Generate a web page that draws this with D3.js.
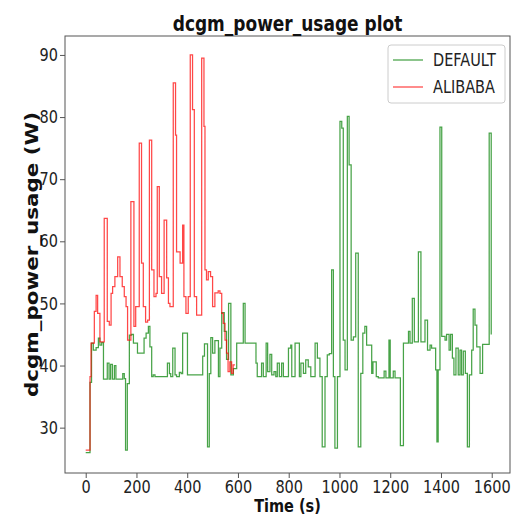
<!DOCTYPE html>
<html>
<head>
<meta charset="utf-8">
<script src="https://cdn.jsdelivr.net/npm/d3@7"></script>
<style>
  html, body { margin: 0; padding: 0; background: #fff; }
  svg { display: block; font-family: "DejaVu Sans", sans-serif; }
</style>
</head>
<body>
<svg id="chart" width="512" height="517"></svg>
<script>
// ---- data ----
const seriesNames = ["DEFAULT", "ALIBABA"];
const xTickValues = [0, 200, 400, 600, 800, 1000, 1200, 1400, 1600];
const yTickValues = [30, 40, 50, 60, 70, 80, 90];

const defaultTime = [0,17,23,30,41,50,56,63,70,85,92,98,105,113,119,146,152,157,164,172,181,188,204,230,238,247,253,260,266,273,322,330,335,343,352,358,369,376,382,401,461,468,480,487,493,500,509,523,529,536,546,555,563,572,582,595,621,628,671,676,693,700,711,717,726,733,742,749,755,763,772,779,799,808,812,825,842,848,858,867,877,887,904,913,923,932,943,952,960,969,976,982,992,1002,1009,1015,1022,1031,1038,1046,1055,1064,1074,1084,1092,1100,1107,1127,1132,1145,1153,1176,1183,1195,1200,1212,1219,1240,1252,1272,1278,1287,1295,1311,1321,1337,1347,1357,1363,1379,1384,1389,1396,1403,1416,1422,1432,1438,1445,1451,1459,1468,1475,1481,1488,1496,1504,1512,1521,1527,1534,1541,1554,1564,1590,1598];
const defaultPower = [26.0,37.3,43.6,42.5,42.9,44.4,43.3,43.7,37.8,40.4,37.8,40.2,37.8,40.0,37.8,38.7,37.9,26.4,37.1,44.9,45.0,43.6,42.0,44.4,45.2,46.3,43.0,38.2,38.5,38.2,40.4,38.7,38.2,42.8,38.5,38.2,38.9,38.7,45.2,38.5,41.5,43.5,26.9,38.7,44.5,42.0,44.0,38.2,42.8,48.5,45.5,41.0,50.0,38.5,39.5,43.6,50.0,43.6,40.4,38.2,40.4,38.2,43.6,39.0,41.8,38.5,39.0,38.2,40.4,38.2,40.4,38.2,42.8,43.3,38.2,43.6,38.2,40.4,38.75,40.9,39.8,38.2,43.6,41.2,38.2,26.9,38.2,41.7,41.9,55.4,38.2,26.7,38.2,79.3,78.2,44.1,39.3,80.1,72.3,44.1,44.6,58.1,26.9,38.75,45.2,46.3,43.3,38.75,40.6,38.2,38.0,39.1,38.0,44.1,38.0,39.1,38.0,27.1,43.6,45.5,43.6,50.8,43.8,58.3,43.8,47.3,42.5,43.3,42.8,39.3,27.7,39.3,78.4,44.7,44.1,45.0,42.5,45.0,41.2,38.5,42.8,38.5,42.5,38.5,42.3,38.75,26.9,38.5,42.5,49.1,46.5,43.0,38.75,43.4,77.4,45.0];

const alibabaTime = [0,17,21,34,41,47,56,73,85,93,100,106,115,126,135,144,152,159,165,178,190,197,211,220,227,236,244,251,260,269,277,282,290,299,309,319,326,332,345,354,358,372,382,387,395,404,412,421,428,437,457,466,470,476,483,492,500,509,522,529,536,542,549,555,561,568,575,581,588];
const alibabaPower = [26.4,38.2,43.6,48.7,51.3,48.4,43.8,63.7,47.1,46.5,51.6,52.7,54.3,57.5,54.3,52.7,51.1,49.5,44.1,66.4,46.3,49.5,75.8,56.5,49.5,47.0,47.3,76.3,55.4,51.1,51.6,68.8,54.3,51.6,63.4,54.1,50.0,49.5,85.5,77.1,58.3,56.5,62.6,51.1,48.4,51.1,90.0,81.2,51.1,48.1,89.5,78.5,55.4,53.8,55.1,54.3,49.5,51.7,52.0,51.6,48.4,46.8,44.1,42.0,39.0,40.6,38.75,40.1,40.1];

// ---- layout ----
const W = 512, H = 517;
const m = { left: 65, right: 2, top: 36, bottom: 44 };
const plotW = W - m.left - m.right;
const plotH = H - m.top - m.bottom;
const stretch = 1.2; // glyphs in the reference are taller than wide

const svg = d3.select("#chart");
svg.append("rect").attr("width", W).attr("height", H).attr("fill", "#fff");

const x = d3.scaleLinear().domain([-81.6, 1672]).range([m.left, m.left + plotW]);
const y = d3.scaleLinear().domain([22.7, 93.05]).range([m.top + plotH, m.top]);

const colors = { DEFAULT: "green", ALIBABA: "red" };

const defaultData = defaultTime.map((t, i) => ({ t, v: defaultPower[i] }));
const alibabaData = alibabaTime.map((t, i) => ({ t, v: alibabaPower[i] }));

const line = d3.line().x(d => x(d.t)).y(d => y(d.v)).curve(d3.curveStepAfter);

svg.append("clipPath").attr("id", "clip")
  .append("rect").attr("x", m.left).attr("y", m.top).attr("width", plotW).attr("height", plotH);

const g = svg.append("g").attr("clip-path", "url(#clip)");
g.append("path").datum(defaultData)
  .attr("d", line).attr("fill", "none")
  .attr("stroke", colors.DEFAULT).attr("stroke-opacity", 0.72).attr("stroke-width", 1.25);
g.append("path").datum(alibabaData)
  .attr("d", line).attr("fill", "none")
  .attr("stroke", colors.ALIBABA).attr("stroke-opacity", 0.72).attr("stroke-width", 1.25);

// ---- axes ----
const xAxis = svg.append("g").attr("transform", `translate(0,${m.top + plotH})`)
  .call(d3.axisBottom(x).tickValues(xTickValues).tickSize(5).tickPadding(3).tickFormat(d3.format("d")));
const yAxis = svg.append("g").attr("transform", `translate(${m.left},0)`)
  .call(d3.axisLeft(y).tickValues(yTickValues).tickSize(5).tickPadding(2).tickFormat(d3.format("d")));

[xAxis, yAxis].forEach(a => {
  a.select(".domain").remove();
  a.selectAll(".tick line").attr("stroke", "#555");
  a.selectAll(".tick text").attr("font-size", 14.5).attr("fill", "#222")
    .attr("font-family", "DejaVu Sans, sans-serif");
});
xAxis.selectAll(".tick text").attr("transform", `translate(0,8) scale(1,${stretch}) translate(0,-8)`);
yAxis.selectAll(".tick text").attr("transform", `scale(1,${stretch})`);

// frame
svg.append("rect").attr("x", m.left).attr("y", m.top).attr("width", plotW).attr("height", plotH)
  .attr("fill", "none").attr("stroke", "#555").attr("stroke-width", 1);

// ---- titles ----
svg.append("text")
  .attr("transform", `translate(${m.left + plotW / 2},31) scale(1,${stretch})`)
  .attr("text-anchor", "middle").attr("font-size", 17).attr("font-weight", "bold")
  .attr("fill", "#111").text("dcgm_power_usage plot");

svg.append("text")
  .attr("transform", `translate(${m.left + plotW / 2},512) scale(1,${stretch})`)
  .attr("text-anchor", "middle").attr("font-size", 14.5).attr("font-weight", "bold")
  .attr("fill", "#111").text("Time (s)");

svg.append("text")
  .attr("transform", `translate(38,${m.top + plotH / 2}) rotate(-90)`)
  .attr("text-anchor", "middle").attr("font-size", 17).attr("font-weight", "bold")
  .attr("textLength", 285).attr("lengthAdjust", "spacingAndGlyphs")
  .attr("fill", "#111").text("dcgm_power_usage (W)");

// ---- legend ----
const lg = svg.append("g").attr("transform", "translate(388,45)");
lg.append("rect").attr("width", 117).attr("height", 58).attr("rx", 3)
  .attr("fill", "#fff").attr("fill-opacity", 0.85).attr("stroke", "#ccc");
seriesNames.forEach((name, i) => {
  const yy = 15 + i * 27;
  lg.append("line").attr("x1", 5).attr("x2", 35).attr("y1", yy).attr("y2", yy)
    .attr("stroke", colors[name]).attr("stroke-opacity", 0.72).attr("stroke-width", 1.25);
  lg.append("text").attr("transform", `translate(45,${yy}) scale(1,${stretch})`)
    .attr("dy", "0.36em")
    .attr("font-size", 14.5).attr("fill", "#222").text(name);
});
</script>
</body>
</html>
